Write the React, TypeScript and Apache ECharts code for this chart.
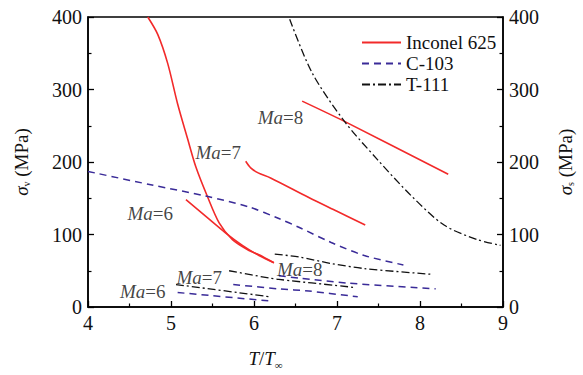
import React, { useEffect, useRef } from 'react';
import * as echarts from 'echarts';

// ---- data (x = T/T∞, y = stress MPa) ----
const inconelSteep = [[4.72, 400], [4.84, 376], [4.96, 336], [5.08, 280], [5.2, 232], [5.3, 193], [5.44, 152], [5.58, 116], [5.74, 93], [5.94, 78], [6.06, 72], [6.24, 61]];
const inconelMa6 = [[5.18, 148], [5.42, 125], [5.66, 102], [5.86, 85], [6.06, 71], [6.24, 61]];
const inconelMa7 = [[5.9, 201], [5.96, 192], [6.05, 185], [6.2, 178], [6.66, 151], [7.0, 132], [7.34, 113]];
const inconelMa8 = [[6.58, 284], [7.09, 256], [8.34, 183]];

const c103Main = [[4.0, 187], [4.74, 169], [5.42, 153], [5.94, 138], [6.3, 122], [6.54, 110], [6.93, 89], [7.33, 71], [7.8, 58]];
const c103Ma8 = [[6.3, 43], [6.54, 40], [7.13, 33], [8.19, 25]];
const c103Ma7 = [[5.75, 31], [6.3, 25], [6.66, 22], [7.25, 14]];
const c103Ma6 = [[5.08, 20], [6.22, 8]];

const t111Main = [[6.43, 397], [6.7, 323], [7.09, 256], [7.49, 203], [7.89, 154], [8.29, 113], [8.69, 93], [8.97, 85]];
const t111Ma8 = [[6.25, 73], [6.54, 69], [6.93, 60], [7.33, 53], [8.15, 45]];
const t111Ma7 = [[5.7, 50], [6.18, 40], [6.3, 38], [7.21, 27]];
const t111Ma6 = [[5.06, 31], [6.2, 14]];

const legendNames = ['Inconel 625', 'C-103', 'T-111'];
const maLabels = [
  { mach: '6', pos: [4.75, 129] },
  { mach: '7', pos: [5.57, 213] },
  { mach: '8', pos: [6.32, 262] },
  { mach: '7', pos: [5.34, 41] },
  { mach: '6', pos: [4.66, 21] },
  { mach: '8', pos: [6.55, 52] },
];

const RED = '#f22a2a';
const BLUE = '#3a2b98';
const BLACK = '#111111';
const FONT = 'Liberation Serif';

export default function App() {
  const ref = useRef<HTMLDivElement>(null);
  useEffect(() => {
    document.body.style.margin = '0';
    const chart = echarts.init(ref.current!, null, { renderer: 'svg' });

    const mk = (name: string, data: number[][], color: string, type: any, width: number) => ({
      name,
      type: 'line',
      data,
      symbol: 'none',
      showSymbol: false,
      smooth: 0.3,
      color,
      lineStyle: { color, width, type },
      silent: true,
      z: 3,
    });
    const dashed = [7, 5];
    const dashDot = [8, 3, 2, 3];

    const axisCommon = {
      type: 'value',
      min: 0,
      max: 400,
      interval: 100,
      splitLine: { show: false },
      axisLine: { show: true, lineStyle: { color: '#000', width: 1.5 } },
      axisTick: { show: true, inside: true, length: 6, lineStyle: { color: '#000', width: 1.3 } },
      minorTick: { show: true, splitNumber: 2, length: 3.5, lineStyle: { color: '#000', width: 1.2 } },
      axisLabel: { color: '#111', fontSize: 20, fontFamily: FONT, margin: 6 },
      nameLocation: 'middle',
      nameTextStyle: {
        color: '#111',
        fontSize: 19,
        fontFamily: FONT,
        rich: {
          s: { fontSize: 19, fontFamily: FONT, fontStyle: 'italic', color: '#111' },
          sub: { fontSize: 10, fontFamily: FONT, color: '#111', verticalAlign: 'bottom', padding: [10, 0, 0, 0] },
          t: { fontSize: 19, fontFamily: FONT, color: '#111' },
        },
      },
    };

    const option: any = {
      animation: false,
      backgroundColor: '#fff',
      grid: { left: 88, right: 77, top: 17, bottom: 58, show: true, borderColor: '#000', borderWidth: 1.5, backgroundColor: 'transparent' },
      legend: {
        data: legendNames,
        orient: 'vertical',
        left: 356,
        top: 28,
        itemWidth: 39,
        itemHeight: 14,
        itemGap: 2,
        itemStyle: { opacity: 0 },
        textStyle: { color: '#111', fontSize: 19, fontFamily: FONT },
      },
      xAxis: {
        type: 'value',
        min: 4,
        max: 9,
        interval: 1,
        splitLine: { show: false },
        axisLine: { show: true, onZero: false, lineStyle: { color: '#000', width: 1.5 } },
        axisTick: { show: true, inside: true, length: 6, lineStyle: { color: '#000', width: 1.3 } },
        minorTick: { show: true, splitNumber: 2, length: 3.5, lineStyle: { color: '#000', width: 1.2 } },
        axisLabel: { color: '#111', fontSize: 20, fontFamily: FONT, margin: 6 },
        name: '{i|T}{n|/}{i|T}{sub|∞}',
        nameLocation: 'middle',
        nameGap: 40,
        nameTextStyle: {
          padding: [0, 60, 0, 0],
          rich: {
            i: { fontSize: 19, fontFamily: FONT, fontStyle: 'italic', color: '#111' },
            n: { fontSize: 19, fontFamily: FONT, color: '#111' },
            sub: { fontSize: 11, fontFamily: FONT, color: '#111', verticalAlign: 'bottom', padding: [12, 0, 0, 0] },
          },
        },
      },
      yAxis: [
        { ...axisCommon, position: 'left', name: '{s|σ}{sub|v}{t| (MPa)}', nameGap: 57 },
        { ...axisCommon, position: 'right', name: '{s|σ}{sub|s}{t| (MPa)}', nameGap: 52, nameRotate: 90 },
      ],
      series: [
        mk('Inconel 625', inconelSteep, RED, 'solid', 1.6),
        mk('Inconel 625', inconelMa6, RED, 'solid', 1.6),
        mk('Inconel 625', inconelMa7, RED, 'solid', 1.6),
        mk('Inconel 625', inconelMa8, RED, 'solid', 1.6),
        mk('C-103', c103Main, BLUE, dashed, 1.5),
        mk('C-103', c103Ma8, BLUE, dashed, 1.5),
        mk('C-103', c103Ma7, BLUE, dashed, 1.5),
        mk('C-103', c103Ma6, BLUE, dashed, 1.5),
        mk('T-111', t111Main, BLACK, dashDot, 1.3),
        mk('T-111', t111Ma8, BLACK, dashDot, 1.3),
        mk('T-111', t111Ma7, BLACK, dashDot, 1.3),
        mk('T-111', t111Ma6, BLACK, dashDot, 1.3),
        {
          name: 'labels',
          type: 'scatter',
          silent: true,
          symbolSize: 0.1,
          itemStyle: { color: 'transparent' },
          z: 5,
          data: maLabels.map((m) => ({
            value: m.pos,
            label: {
              show: true,
              position: 'inside',
              formatter: `{i|Ma}{n|=${m.mach}}`,
              rich: {
                i: { fontSize: 19, fontFamily: FONT, fontStyle: 'italic', color: '#111' },
                n: { fontSize: 19, fontFamily: FONT, color: '#111' },
              },
            },
          })),
        },
      ],
    };
    chart.setOption(option);
    return () => chart.dispose();
  }, []);
  return <div ref={ref} style={{ width: 583, height: 375 }} />;
}
